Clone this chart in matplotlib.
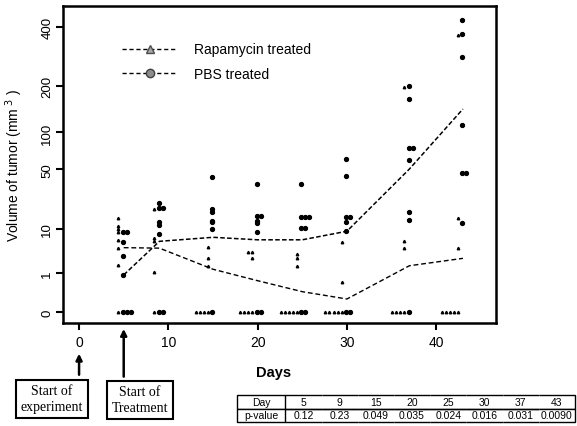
import numpy as np
import matplotlib
matplotlib.use("Agg")
import matplotlib.pyplot as plt
from matplotlib.lines import Line2D

plt.rcParams['font.family'] = ['Liberation Sans', 'DejaVu Sans']

days = [5, 9, 15, 20, 25, 30, 37, 43]

# individual mice (mm^3)
rapa_vals = [
    [14.2, 11.1, 9.9, 8.75, 6.5, 4.47, 1.79, 0],
    [18.9, 6.9, 6.3, 1.08, 0],
    [4.7, 2.67, 1.71, 0, 0, 0, 0],
    [3.7, 3.7, 2.67, 0, 0, 0, 0],
    [3.37, 2.67, 1.71, 0, 0, 0, 0, 0],
    [6.0, 0.48, 0, 0, 0, 0, 0],
    [196, 6.3, 4.47, 0, 0, 0, 0],
    [367, 14.2, 4.47, 0, 0, 0, 0, 0],
]
pbs_vals = [
    [8.8, 8.8, 5.85, 3.08, 0.88, 0, 0, 0],
    [22.4, 19.3, 19.3, 12.5, 11.4, 8.2, 0, 0],
    [42.2, 18.9, 17.3, 13.1, 12.5, 9.9, 0],
    [36.2, 15.1, 15.1, 13.1, 12.2, 8.75, 0, 0],
    [36.2, 14.7, 14.7, 14.7, 10.3, 10.3, 0, 0],
    [61.9, 43.8, 14.7, 14.7, 12.5, 9.3, 0, 0],
    [198.7, 167, 76.2, 76.2, 60.7, 17.5, 13.6, 0],
    [431.6, 370, 287.6, 113, 46.4, 46.4, 12.2],
]

# group curves
rapa_line = [4.6, 4.5, 1.35, 0.53, 0.145, 0.038, 1.71, 2.67]
pbs_line = [0.88, 6.1, 7.2, 6.5, 6.5, 9.1, 50.5, 144.6]

yticks = [0, 1, 10, 50, 100, 200, 400]
xticks = [0, 10, 20, 30, 40]

table_days = ["5", "9", "15", "20", "25", "30", "37", "43"]
p_values = ["0.12", "0.23", "0.049", "0.035", "0.024", "0.016", "0.031", "0.0090"]


def spread(day, vals, start, step):
    # stack tied values side by side like a stripchart
    xs, seen = [], {}
    for v in vals:
        k = seen.get(v, 0)
        seen[v] = k + 1
        xs.append(day + start + step * k)
    return xs


fig = plt.figure(figsize=(5.77, 4.27), dpi=100)
ax = fig.add_axes([63/577, 1-324/427, 433/577, 317/427])

ax.set_yscale('function', functions=(np.cbrt, lambda v: v**3))

for d, rv, pv in zip(days, rapa_vals, pbs_vals):
    ax.plot(spread(d, rv, -0.6, -0.45), rv, ls='none', marker='^', ms=1.8,
            color='k', clip_on=False)
    ax.plot(spread(d, pv, -0.1, 0.45), pv, ls='none', marker='o', ms=2.8,
            color='k', clip_on=False)

ax.plot(days, rapa_line, color='k', lw=1.0, ls=(0, (3.5, 2)))
ax.plot(days, pbs_line, color='k', lw=1.1, ls=(0, (3, 1.5)))

ax.set_xlim(-1.8, 46.7)
ax.set_ylim(-0.023, 495)
ax.set_xticks(xticks)
ax.set_yticks(yticks)
ax.set_yticklabels([str(t) for t in yticks], rotation=90, va='center')
ax.tick_params(axis='both', direction='out', length=5, width=1.5, labelsize=9.5)
ax.tick_params(axis='x', pad=4, labelsize=10)
ax.tick_params(axis='y', pad=2)
for s in ax.spines.values():
    s.set_linewidth(1.8)

ax.set_ylabel('Volume of tumor (mm$^{\\ 3}$ )', fontsize=10)
ax.yaxis.set_label_coords(-0.088, 0.5)
ax.set_xlabel('Days', fontsize=10.5, fontweight='bold')
ax.xaxis.set_label_coords(0.487, -0.132)

handles = [
    Line2D([], [], color='k', lw=1, ls=(0, (3, 2)), marker='^', ms=6,
           mfc='0.65', mec='0.3'),
    Line2D([], [], color='k', lw=1, ls=(0, (3, 2)), marker='o', ms=6,
           mfc='0.55', mec='0.25'),
]
ax.legend(handles, ['Rapamycin treated', 'PBS treated'], loc='upper left',
          bbox_to_anchor=(0.136, 0.885), frameon=False, fontsize=10,
          borderaxespad=0, borderpad=0, handlelength=4, handletextpad=1.2,
          labelspacing=0.75, numpoints=1)

# arrows to the x-axis
ax.annotate('', xy=(0, -0.088), xycoords=('data', 'axes fraction'),
            xytext=(0, -0.172), textcoords=('data', 'axes fraction'),
            arrowprops=dict(arrowstyle='-|>', lw=1.8, color='k', mutation_scale=9))
ax.annotate('', xy=(5, -0.01), xycoords=('data', 'axes fraction'),
            xytext=(5, -0.178), textcoords=('data', 'axes fraction'),
            arrowprops=dict(arrowstyle='-|>', lw=1.8, color='k', mutation_scale=9))

box = dict(boxstyle='square,pad=0.35', fc='white', ec='k', lw=1.5)
fig.text(52/577, 1-400/427, 'Start of\nexperiment', ha='center', va='center',
         family='Liberation Serif', fontsize=10, bbox=box, linespacing=1.3)
fig.text(140/577, 1-401/427, 'Start of\nTreatment', ha='center', va='center',
         family='Liberation Serif', fontsize=10, bbox=box, linespacing=1.3)

# p-value table
tax = fig.add_axes([237/577, 4/427, 338/577, 27/427])
tax.axis('off')
tbl = tax.table(cellText=[['Day'] + table_days, ['p-value'] + p_values],
                bbox=[0, 0, 1, 1], cellLoc='center',
                colWidths=[48] + [36] * 8)
tbl.auto_set_font_size(False)
tbl.set_fontsize(7.5)
ncol = len(table_days) + 1
for (r, c), cell in tbl.get_celld().items():
    cell.set_linewidth(1)
    if c == 0:
        cell.visible_edges = 'closed'
    elif c == ncol - 1:
        cell.visible_edges = 'TBR'
    else:
        cell.visible_edges = 'TB'

fig.savefig('out.png', dpi=100)
